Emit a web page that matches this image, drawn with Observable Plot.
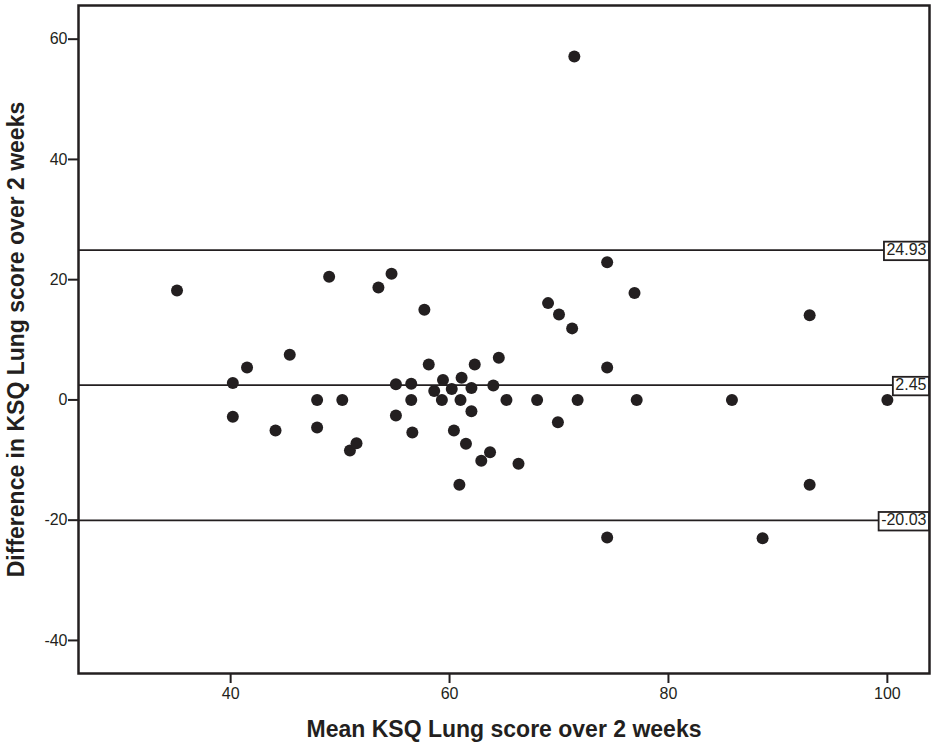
<!DOCTYPE html>
<html><head><meta charset="utf-8">
<script src="https://cdn.jsdelivr.net/npm/d3@7"></script>
<script src="https://cdn.jsdelivr.net/npm/@observablehq/plot@0.6"></script>
<style>
body{margin:0;background:#fff}
#chart{width:931px;height:744px}
</style>
</head><body><div id="chart"></div>
<script>
// Mean KSQ Lung score over 2 weeks (x) and difference (y)
const meanScore = [35.1,40.2,40.2,41.5,44.1,45.4,47.9,47.9,49.0,50.2,50.9,51.5,53.5,54.7,55.1,55.1,56.5,56.5,56.6,57.7,58.1,58.6,59.4,59.3,60.2,60.4,60.9,61.1,61.0,61.5,62.0,62.0,62.3,62.9,63.7,64.0,64.5,65.2,66.3,68.0,69.0,69.9,70.0,71.2,71.4,71.7,74.4,74.4,74.4,76.9,77.1,85.8,88.6,92.9,92.9,100.0];
const diffScore = [18.2,2.8,-2.8,5.4,-5.1,7.5,0,-4.6,20.5,0,-8.4,-7.2,18.7,21.0,2.6,-2.6,2.7,0,-5.4,15.0,5.9,1.5,3.3,0,1.8,-5.1,-14.1,3.7,0,-7.3,2.0,-1.9,5.9,-10.1,-8.7,2.4,7.0,0,-10.6,0,16.1,-3.7,14.2,11.9,57.1,0,22.9,5.4,-22.9,17.8,0,0,-23.0,14.1,-14.1,0];
const limitValues = [24.93, 2.45, -20.03];
const limitLabels = ["24.93", "2.45", "-20.03"];
const xTicks = [40, 60, 80, 100];
const yTicks = [-40, -20, 0, 20, 40, 60];

const points = meanScore.map((m, i) => ({mean: m, diff: diffScore[i]}));
const limits = limitValues.map((v, i) => ({value: v, label: limitLabels[i]}));
const ink = "#231f20";
const fmt = d => String(d);

const plot = Plot.plot({
  width: 931, height: 744,
  marginLeft: 78, marginRight: 2, marginTop: 5, marginBottom: 71,
  style: {fontFamily: "'Liberation Sans', Arial, sans-serif", fontSize: "16px", color: ink, background: "#fff"},
  x: {domain: [26.1, 103.85]},
  y: {domain: [-45.5, 65.6]},
  marks: [
    Plot.ruleY(limits, {y: "value", stroke: ink, strokeWidth: 1.8}),
    Plot.dot(points, {x: "mean", y: "diff", r: 6, fill: ink, stroke: "none"}),
    Plot.text(limits, {y: "value", text: "label", frameAnchor: "right", textAnchor: "end", dx: -3, fill: ink, fontSize: 16}),
    Plot.frame({stroke: ink, strokeWidth: 2.5}),
    Plot.axisX({ticks: xTicks, tickFormat: fmt, fontSize: 16, tickSize: 10, tickPadding: 4, strokeWidth: 2, label: "Mean KSQ Lung score over 2 weeks", labelAnchor: "center", labelArrow: "none", labelOffset: 63}),
    Plot.axisY({ticks: yTicks, tickFormat: fmt, fontSize: 16, tickSize: 10, tickPadding: 1, strokeWidth: 2, label: "Difference in KSQ Lung score over 2 weeks", labelAnchor: "center", labelArrow: "none", labelOffset: 71})
  ]
});
document.getElementById("chart").appendChild(plot);

// bold, larger axis titles
plot.querySelectorAll("g[aria-label]").forEach(el => {
  const a = el.getAttribute("aria-label");
  if (/axis label/.test(a)) {
    el.style.fontSize = "23px";
    el.style.fontWeight = "bold";
    el.querySelectorAll("text").forEach(t => { t.style.fontSize = "23px"; t.style.fontWeight = "bold"; });
  }
});

// boxed labels behind the limit values
const g = plot.querySelector('g[aria-label="text"]');
if (g) {
  g.querySelectorAll("text").forEach(t => {
    const b = t.getBBox();
    const r = document.createElementNS("http://www.w3.org/2000/svg", "rect");
    r.setAttribute("x", b.x - 2.5);
    r.setAttribute("y", b.y + 0.5);
    r.setAttribute("width", b.width + 5);
    r.setAttribute("height", b.height + 1.5);
    r.setAttribute("fill", "#fff");
    r.setAttribute("stroke", ink);
    r.setAttribute("stroke-width", 1.8);
    const tr = t.getAttribute("transform");
    if (tr) r.setAttribute("transform", tr);
    g.insertBefore(r, t);
  });
}
</script>
</body></html>
